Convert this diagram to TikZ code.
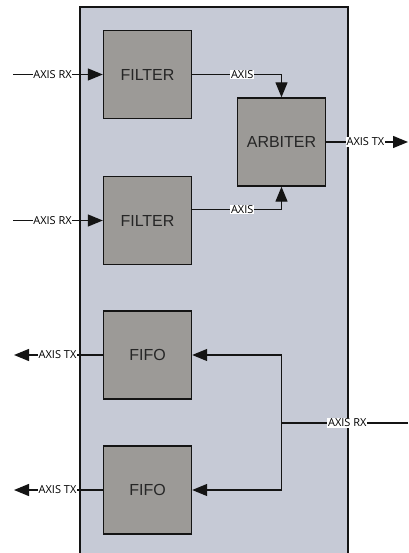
\documentclass[tikz,border=0pt]{standalone}
\usepackage{fontspec}
\setmainfont{Liberation Sans}
\newfontfamily\lblfont{Open Sans}
\usetikzlibrary{arrows.meta}
\definecolor{boardc}{RGB}{198,202,214}
\definecolor{blockc}{RGB}{156,154,151}
\definecolor{wirec}{RGB}{20,20,20}

\begin{document}
\begin{tikzpicture}[x=1pt,y=-1pt,>={Triangle[length=15pt,width=12pt]},
  blk/.style={draw=wirec,line width=1.4pt,fill=blockc,minimum size=88pt,inner sep=0pt,
    text=black!85,font=\fontsize{16}{19}\selectfont},
  sig/.style={draw=wirec,line width=1.3pt},
  lbl/.style={fill=white,inner sep=0.7pt,font=\lblfont\fontsize{11}{13}\selectfont}]
\useasboundingbox (0,0) rectangle (408,553);
% board (open at the bottom)
\fill[boardc] (80,7) rectangle (348,553);
\draw[wirec,line width=1.2pt] (80,553)--(80,7)--(348,7)--(348,553);
% blocks
\node[blk] (f1)    at (147.5,74.5) {FILTER};
\node[blk] (f2)    at (147.5,220.5) {FILTER};
\node[blk] (arb)   at (281.5,142) {ARBITER};
\node[blk] (fifo1) at (147.5,355) {FIFO};
\node[blk] (fifo2) at (147.5,490) {FIFO};
% outside ends
\coordinate (in1) at (13,74.5);
\coordinate (in2) at (13,220.5);
\coordinate (out) at (408,142);
\coordinate (tx1) at (14,355);
\coordinate (tx2) at (14,490);
\coordinate (rx)  at (408,423);
\coordinate (jn)  at (281.5,423);
% filter path
\draw[sig,->] (in1) -- node[lbl,pos=0.44]{AXIS RX} (f1.west);
\draw[sig,->] (in2) -- node[lbl,pos=0.44]{AXIS RX} (f2.west);
\draw[sig,->] (f1.east) -| node[lbl,pos=0.28]{AXIS} (arb.north);
\draw[sig,->] ([yshift=11pt]f2.east) -| node[lbl,pos=0.28]{AXIS} (arb.south);
\draw[sig,->] (arb.east) -- node[lbl,pos=0.48]{AXIS TX} (out);
% fifo path
\draw[sig] (rx) -- node[lbl,pos=0.48]{AXIS RX} (jn);
\draw[sig,->] (jn) |- (fifo1.east);
\draw[sig,->] (jn) |- (fifo2.east);
\draw[sig,->] (fifo1.west) -- node[lbl,pos=0.51]{AXIS TX} (tx1);
\draw[sig,->] (fifo2.west) -- node[lbl,pos=0.51]{AXIS TX} (tx2);
\end{tikzpicture}
\end{document}
